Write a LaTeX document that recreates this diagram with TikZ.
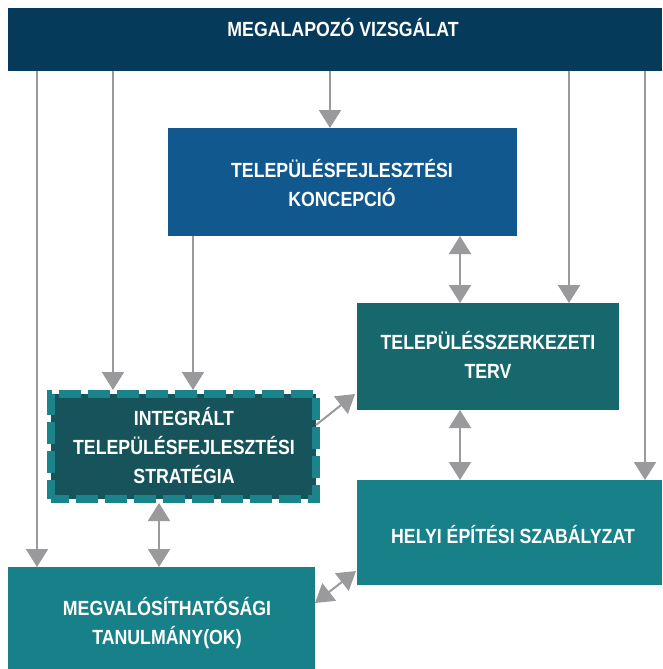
\documentclass[tikz,border=0pt]{standalone}
\usepackage{fontspec}
\setmainfont[FakeStretch=0.865]{Liberation Sans}
\usetikzlibrary{arrows.meta,calc}
\definecolor{cbar}{HTML}{063A5B}
\definecolor{ckonc}{HTML}{10588D}
\definecolor{ctszt}{HTML}{17686C}
\definecolor{chesz}{HTML}{178089}
\definecolor{cissfill}{HTML}{16535A}
\definecolor{cissline}{HTML}{1B848B}
\definecolor{cgray}{HTML}{9A9A9C}
\begin{document}
\begin{tikzpicture}[x=1pt,y=-1pt,
  box/.style={draw=none, inner sep=0pt, outer sep=0pt, anchor=north west},
  lbl/.style={text=white, font=\fontsize{20.5}{29}\selectfont\bfseries, align=center, anchor=base, inner sep=0pt},
  arr/.style={draw=cgray, line width=2pt, -{Triangle[width=22pt,length=18pt]}},
  darr/.style={draw=cgray, line width=2pt, {Triangle[width=22pt,length=18pt]}-{Triangle[width=22pt,length=18pt]}}]
\useasboundingbox (0,0) rectangle (662,669);

% boxes
\node[box, fill=cbar, minimum width=654pt, minimum height=63pt] (bar) at (8,8) {};
\node[box, fill=ckonc, minimum width=349pt, minimum height=108pt] (konc) at (168,128) {};
\node[box, fill=ctszt, minimum width=262pt, minimum height=107pt] (tszt) at (357,303) {};
\node[box, fill=chesz, minimum width=305pt, minimum height=105pt] (hesz) at (357,480) {};
\node[box, fill=chesz, minimum width=307pt, minimum height=102pt] (mt) at (8,567) {};
\node[box, fill=cissfill, draw=cissline, line width=8pt, dash pattern=on 22pt off 7pt, dash phase=4pt,
      minimum width=265pt, minimum height=105pt] (iss) at (51,394) {};

% labels (anchor = baseline of last line)
\node[lbl] (tbar) at (343,36.7) {MEGALAPOZÓ VIZSGÁLAT};
\node[lbl] (tkonc) at (342,206) {TELEPÜLÉSFEJLESZTÉSI\\KONCEPCIÓ};
\node[lbl] (ttszt) at (488,378) {TELEPÜLÉSSZERKEZETI\\TERV};
\node[lbl] (tiss) at (184,483) {INTEGRÁLT\\TELEPÜLÉSFEJLESZTÉSI\\STRATÉGIA};
\node[lbl] (thesz) at (513,543) {HELYI ÉPÍTÉSI SZABÁLYZAT};
\node[lbl] (tmt) at (167,644) {MEGVALÓSÍTHATÓSÁGI\\TANULMÁNY(OK)};

% x positions
\coordinate (x37) at (37,0);
\coordinate (x113) at (113,0);
\coordinate (x159) at (159,0);
\coordinate (x193) at (193,0);
\coordinate (x330) at (330,0);
\coordinate (x460) at (460,0);
\coordinate (x569) at (569,0);
\coordinate (x645) at (645,0);

% connectors
\draw[arr] (bar.south -| x37) -- (mt.north -| x37);
\draw[arr] (bar.south -| x113) -- ($(iss.north -| x113)+(0,-4)$);
\draw[arr] (bar.south -| x330) -- (konc.north -| x330);
\draw[arr] (bar.south -| x569) -- (tszt.north -| x569);
\draw[arr] (bar.south -| x645) -- (hesz.north -| x645);
\draw[arr] (konc.south -| x193) -- ($(iss.north -| x193)+(0,-4)$);
\draw[darr] (konc.south -| x460) -- (tszt.north -| x460);
\draw[darr] (tszt.south -| x460) -- (hesz.north -| x460);
\draw[darr] ($(iss.south -| x159)+(0,4)$) -- (mt.north -| x159);
\draw[arr] ([yshift=21.5pt]iss.east) -- ([yshift=-37.5pt,xshift=-2pt]tszt.west);
\draw[darr] ([yshift=15pt]mt.east) -- ([yshift=-38.5pt,xshift=-1pt]hesz.west);
\end{tikzpicture}
\end{document}
